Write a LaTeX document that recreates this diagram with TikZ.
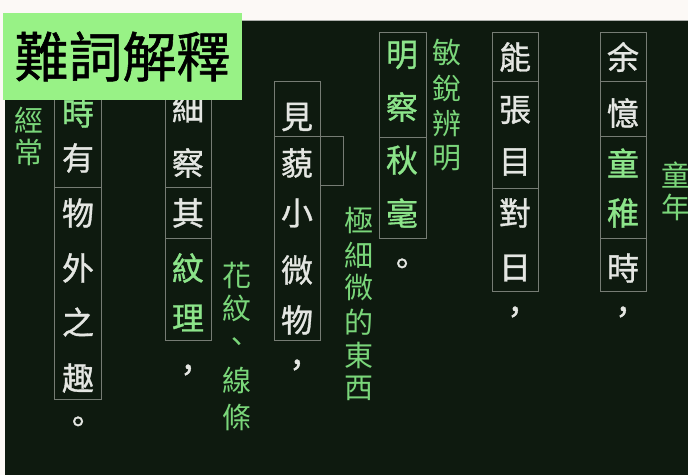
\documentclass[tikz,border=0pt]{standalone}
\usepackage{fontspec}
\newfontfamily\tcfont{Noto Sans CJK TC}
\newfontfamily\tcboldfont[FakeBold=1]{Noto Sans CJK TC}
\definecolor{paper}{RGB}{252,249,246}
\definecolor{board}{RGB}{14,26,15}
\definecolor{chalk}{RGB}{228,230,226}
\definecolor{chalkgreen}{RGB}{140,228,138}
\definecolor{notegreen}{RGB}{122,214,122}
\definecolor{cellline}{RGB}{118,124,116}
\definecolor{titlegreen}{RGB}{152,242,134}
\tikzset{
  ch/.style={text=chalk,font=\tcboldfont\fontsize{32}{32}\selectfont,inner sep=0pt},
  gch/.style={ch,text=chalkgreen},
  note/.style={text=notegreen,font=\tcfont\fontsize{29}{29}\selectfont,inner sep=0pt},
  cell/.style={draw=cellline,line width=0.9pt}
}
\begin{document}
\begin{tikzpicture}[x=1pt,y=-1pt]
\useasboundingbox (0,0) rectangle (688,475);
\fill[paper] (0,0) rectangle (688,475);
\fill[board] (5,20) rectangle (688,475);
\draw[cellline!60,line width=0.6pt] (5,20) -- (688,20);

% boxes
\draw[cell] (54,95) rectangle (101,399);
\draw[cell] (54,187) -- (101,187);
\draw[cell] (165,95) rectangle (211,340);
\draw[cell] (165,187) -- (211,187);
\draw[cell] (165,238) -- (211,238);
\draw[cell] (274,81) rectangle (320,340);
\draw[cell] (274,136) -- (320,136);
\draw[cell] (320,136) rectangle (343,185);
\draw[cell] (379,32) rectangle (426,238);
\draw[cell] (379,137) -- (426,137);
\draw[cell] (492,32) rectangle (538,291);
\draw[cell] (492,81) -- (538,81);
\draw[cell] (492,188) -- (538,188);
\draw[cell] (600,32) rectangle (646,291);
\draw[cell] (600,81) -- (646,81);
\draw[cell] (600,136) -- (646,136);
\draw[cell] (600,238) -- (646,238);

% text columns
\foreach \c/\y/\s [count=\i] in {時/113/gch,有/158/ch,物/213/ch,外/268/ch,之/322/ch,趣/378/ch,。/425/ch}
  \node[\s] (shi\i) at (78,\y) {\c};
\foreach \c/\y/\s [count=\i] in {細/108/ch,察/163/ch,其/213/ch,紋/268/gch,理/318/gch,，/373/ch}
  \node[\s] (xi\i) at (188,\y) {\c};
\foreach \c/\y [count=\i] in {見/117,藐/163,小/213,微/270,物/320,，/368}
  \node[ch] (jian\i) at (297,\y) {\c};
\foreach \c/\y/\s [count=\i] in {明/55/gch,察/107/gch,秋/160/gch,毫/213/gch,。/267/ch}
  \node[\s] (ming\i) at (402,\y) {\c};
\foreach \c/\y [count=\i] in {能/57,張/110,目/162,對/213,日/268,，/315}
  \node[ch] (neng\i) at (515,\y) {\c};
\foreach \c/\y/\s [count=\i] in {余/57/ch,憶/113/ch,童/163/gch,稚/213/gch,時/268/ch,，/315/ch}
  \node[\s] (yu\i) at (623,\y) {\c};

% notes
\foreach \c/\y [count=\i] in {經/120,常/152}
  \node[note] (jing\i) at (29,\y) {\c};
\foreach \c/\y [count=\i] in {花/275,紋/308,、/345,線/380,條/417}
  \node[note] (hua\i) at (237,\y) {\c};
\foreach \c/\y [count=\i] in {極/220,細/255,微/288,的/322,東/355,西/388}
  \node[note] (ji\i) at (359,\y) {\c};
\foreach \c/\y [count=\i] in {敏/53,銳/88,辨/123,明/158}
  \node[note] (min\i) at (447,\y) {\c};
\foreach \c/\y [count=\i] in {童/175,年/207}
  \node[note] (tong\i) at (676,\y) {\c};

% title
\node[fill=titlegreen,minimum width=239pt,minimum height=87pt,inner sep=0pt,
  font=\tcboldfont\fontsize{54}{54}\selectfont] (title) at (122.5,56.5) {難詞解釋};
\end{tikzpicture}
\end{document}
